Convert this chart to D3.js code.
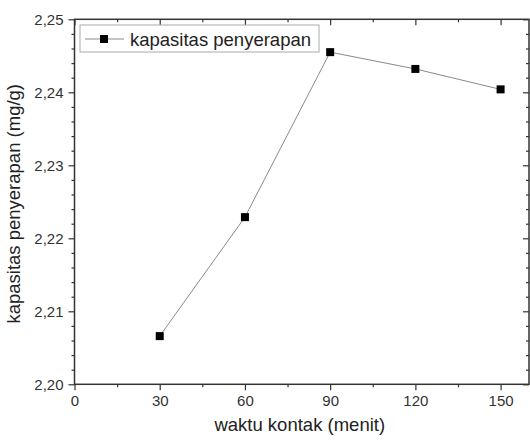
<!DOCTYPE html>
<html>
<head>
<meta charset="utf-8">
<script src="https://cdn.jsdelivr.net/npm/d3@7"></script>
<style>
  html, body { margin: 0; padding: 0; background: #fff; }
  svg { display: block; font-family: "Liberation Sans", Arial, sans-serif; }
</style>
</head>
<body>
<svg id="chart" width="530" height="441"></svg>
<script>
// data
const waktu = [30, 60, 90, 120, 150]
const kapasitas = [2.2066, 2.2229, 2.2455, 2.2432, 2.2404]
const xMajor = [0, 30, 60, 90, 120, 150]
const xMinor = [15, 45, 75, 105, 135]
const yMajor = [2.20, 2.21, 2.22, 2.23, 2.24, 2.25]
const seriesName = 'kapasitas penyerapan'
const xTitle = 'waktu kontak (menit)'
const yTitle = 'kapasitas penyerapan (mg/g)'

const plotL = 74.5, plotR = 529, plotT = 19.3, plotB = 384.3

const svg = d3.select('#chart')

const x = d3.scaleLinear().domain([0, 160]).range([plotL, plotR])
const y = d3.scaleLinear().domain([2.20, 2.25]).range([plotB, plotT])

const idLocale = d3.formatLocale({ decimal: ',', thousands: '.', grouping: [3], currency: ['', ''] })
const fmtY = idLocale.format('.2f')

var yMinor = d3.range(2.20, 2.2501, 0.002).filter(v => !yMajor.some(m => Math.abs(m - v) < 1e-6))

function styleAxis(g) {
  g.select('.domain').remove()
  g.selectAll('line').attr('stroke', '#333').attr('stroke-width', 1.2)
  g.selectAll('text').attr('fill', '#333').style('font-size', '15px')
}

// bottom
svg.append('g').attr('transform', `translate(0,${plotB})`)
  .call(d3.axisBottom(x).tickValues(xMajor).tickSize(6).tickPadding(5).tickFormat(d3.format('d')))
  .call(styleAxis)
svg.append('g').attr('transform', `translate(0,${plotB})`)
  .call(d3.axisBottom(x).tickValues(xMinor).tickSize(3).tickFormat(''))
  .call(styleAxis)

// top (mirror, inward)
svg.append('g').attr('transform', `translate(0,${plotT})`)
  .call(d3.axisTop(x).tickValues(xMajor).tickSize(-6).tickFormat(''))
  .call(styleAxis)
svg.append('g').attr('transform', `translate(0,${plotT})`)
  .call(d3.axisTop(x).tickValues(xMinor).tickSize(-3).tickFormat(''))
  .call(styleAxis)

// left
svg.append('g').attr('transform', `translate(${plotL},0)`)
  .call(d3.axisLeft(y).tickValues(yMajor).tickSize(6).tickPadding(5).tickFormat(fmtY))
  .call(styleAxis)
svg.append('g').attr('transform', `translate(${plotL},0)`)
  .call(d3.axisLeft(y).tickValues(yMinor).tickSize(3).tickFormat(''))
  .call(styleAxis)

// right (mirror, inward)
svg.append('g').attr('transform', `translate(${plotR},0)`)
  .call(d3.axisRight(y).tickValues(yMajor).tickSize(-6).tickFormat(''))
  .call(styleAxis)
svg.append('g').attr('transform', `translate(${plotR},0)`)
  .call(d3.axisRight(y).tickValues(yMinor).tickSize(-3).tickFormat(''))
  .call(styleAxis)

// frame
svg.append('rect')
  .attr('x', plotL).attr('y', plotT)
  .attr('width', plotR - plotL).attr('height', plotB - plotT)
  .attr('fill', 'none').attr('stroke', '#333').attr('stroke-width', 1.5)

// series
const pts = waktu.map((w, i) => [w, kapasitas[i]])
svg.append('path')
  .datum(pts)
  .attr('d', d3.line().x(d => x(d[0])).y(d => y(d[1])))
  .attr('fill', 'none').attr('stroke', '#8a8a8a').attr('stroke-width', 1)

const sz = 8
svg.selectAll('rect.pt')
  .data(pts)
  .enter().append('rect')
  .attr('class', 'pt')
  .attr('x', d => x(d[0]) - sz / 2).attr('y', d => y(d[1]) - sz / 2)
  .attr('width', sz).attr('height', sz)
  .attr('fill', '#000')

// legend
const lg = svg.append('g')
lg.append('rect')
  .attr('x', 80).attr('y', 25).attr('width', 239).attr('height', 27)
  .attr('fill', '#fff').attr('stroke', '#aaa').attr('stroke-width', 1)
lg.append('line')
  .attr('x1', 85).attr('x2', 124).attr('y1', 39).attr('y2', 39)
  .attr('stroke', '#8a8a8a').attr('stroke-width', 1)
lg.append('rect')
  .attr('x', 104 - sz / 2).attr('y', 39 - sz / 2).attr('width', sz).attr('height', sz)
  .attr('fill', '#000')
lg.append('text')
  .attr('x', 130).attr('y', 45.5)
  .style('font-size', '18.5px').attr('fill', '#222')
  .text(seriesName)

// axis titles
svg.append('text')
  .attr('x', (plotL + plotR) / 2 - 2).attr('y', 431)
  .attr('text-anchor', 'middle')
  .style('font-size', '18.5px').attr('fill', '#222')
  .text(xTitle)

svg.append('text')
  .attr('transform', `translate(20,${(plotT + plotB) / 2 + 2}) rotate(-90)`)
  .attr('text-anchor', 'middle')
  .style('font-size', '18.5px').attr('fill', '#222')
  .text(yTitle)
</script>
</body>
</html>
